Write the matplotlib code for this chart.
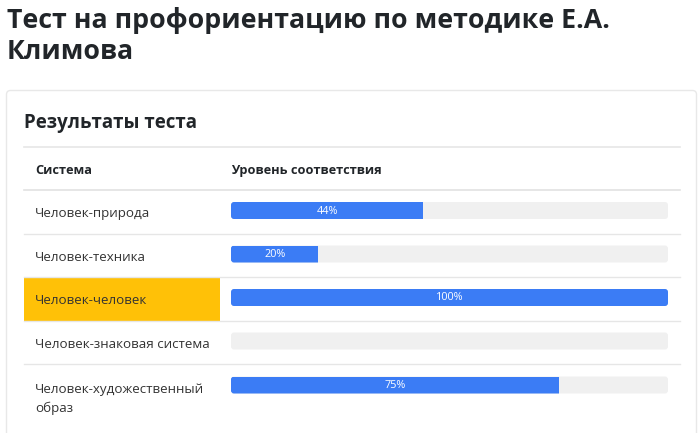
import matplotlib.pyplot as plt
from matplotlib.patches import FancyBboxPatch, Rectangle

plt.rcParams['font.family'] = ['Open Sans', 'DejaVu Sans']

title_lines = ["Тест на профориентацию по методике Е.А.", "Климова"]
card_title = "Результаты теста"
col_headers = ["Система", "Уровень соответствия"]
systems = ["Человек-природа", "Человек-техника", "Человек-человек",
           "Человек-знаковая система", "Человек-художественный\nобраз"]
values = [44, 20, 100, 0, 75]
highlight = "Человек-человек"

TEXT = "#212529"
BLUE = "#3b7cf5"
TRACK = "#f0f0f0"
LINE = "#e6e6e6"
YELLOW = "#ffc107"

fig = plt.figure(figsize=(7, 4.33), dpi=100)
ax = fig.add_axes([0, 0, 1, 1])
ax.set_xlim(0, 700)
ax.set_ylim(433, 0)
ax.axis("off")

# page title
ax.text(7, 28, title_lines[0], fontsize=19.3, fontweight="bold", color=TEXT, va="baseline")
ax.text(7, 59, title_lines[1], fontsize=19.3, fontweight="bold", color=TEXT, va="baseline")

# card
ax.add_patch(FancyBboxPatch((6.5, 90.5), 690, 400, boxstyle="round,pad=0,rounding_size=4",
                            fc="white", ec="#e8e8e8", lw=1))
ax.text(24, 128, card_title, fontsize=13.5, fontweight="bold", color=TEXT, va="baseline")
ax.plot([24, 680], [147, 147], color=LINE, lw=1.2)

# table header
ax.text(35, 174, col_headers[0], fontsize=9.2, fontweight="bold", color=TEXT, va="baseline")
ax.text(231, 174, col_headers[1], fontsize=9.2, fontweight="bold", color=TEXT, va="baseline")
ax.plot([24, 680], [190, 190], color="#e2e2e2", lw=1.2)

row_h = 43.5
bar_x0, bar_w, bar_h = 231, 437, 17
for i, (name, val) in enumerate(zip(systems, values)):
    top = 190 + i * row_h
    last = i == len(systems) - 1
    if name == highlight:
        ax.add_patch(Rectangle((24, top), 196, row_h, fc=YELLOW, ec="none"))
    if not last:
        ax.plot([24, 680], [top + row_h, top + row_h], color=LINE, lw=1)
    for k, line in enumerate(name.split("\n")):
        ax.text(35, top + 27.5 + (1 if last else 0) + k * 19.5, line,
                fontsize=9.6, color="#333333", va="baseline")
    cy = top + 20.5 + (0.5 if last else 0)
    track = FancyBboxPatch((bar_x0, cy - bar_h / 2), bar_w, bar_h,
                           boxstyle="round,pad=0,rounding_size=3", fc=TRACK, ec="none")
    ax.add_patch(track)
    fill = bar_w * val / 100
    if fill > 0:
        bars = ax.barh([cy], [fill], height=bar_h, left=bar_x0, color=BLUE)
        for b in bars:
            b.set_clip_path(track)
        ax.text(bar_x0 + fill / 2, cy + 0.5, f"{val}%", fontsize=7.8, color="white",
                ha="center", va="center")

ax.set_xlim(0, 700)
ax.set_ylim(433, 0)
fig.savefig("out.png", dpi=100)
